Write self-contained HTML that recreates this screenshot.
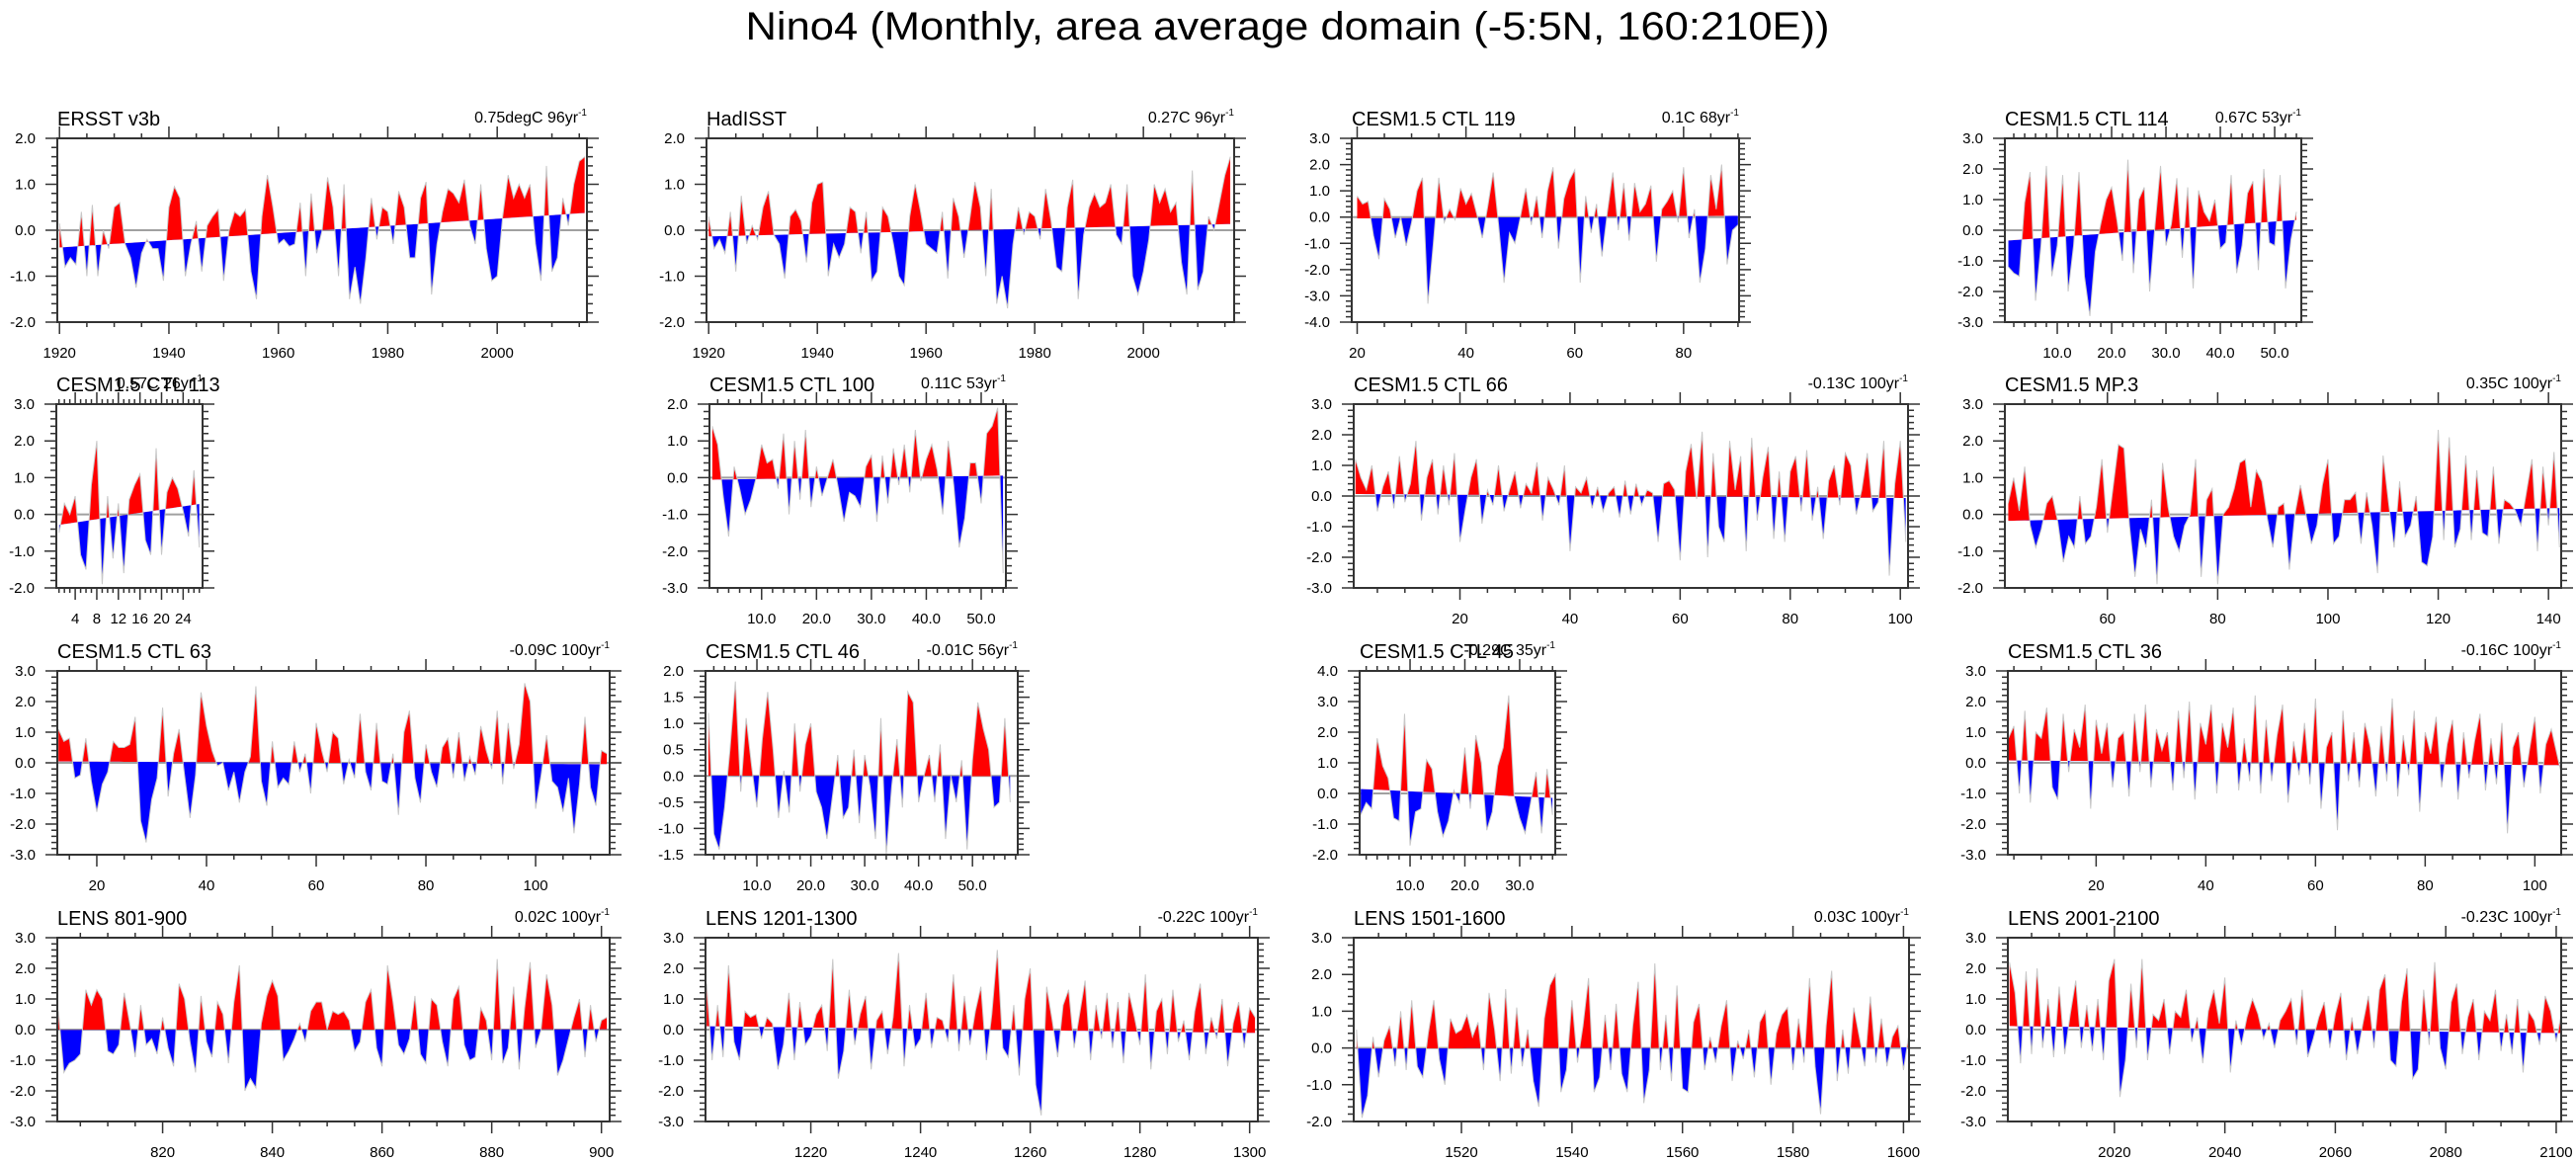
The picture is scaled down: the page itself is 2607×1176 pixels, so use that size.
<!DOCTYPE html>
<html><head><meta charset="utf-8">
<style>
html,body{margin:0;padding:0;background:#fff;}
svg{display:block;font-family:"Liberation Sans",Arial,sans-serif;}
</style></head>
<body>
<svg id="chart" width="2607" height="1176" viewBox="0 0 2607 1176" xmlns="http://www.w3.org/2000/svg">
<rect x="0" y="0" width="2607" height="1176" fill="#fff"/>
<text x="1303" y="40" text-anchor="middle" font-size="40" textLength="1097" lengthAdjust="spacingAndGlyphs" fill="#000">Nino4 (Monthly, area average domain (-5:5N, 160:210E))</text>
</svg>
<script>
// ---- data (approx. one per year) ----
const ersstValues=[0.15,-0.8,-0.6,-0.75,0.4,-1.0,0.55,-1.0,0.0,-0.4,0.5,0.6,-0.3,-0.6,-1.25,-0.5,-0.2,-0.4,-0.4,-1.1,0.5,0.95,0.7,-1.0,-0.3,0.2,-0.9,0.1,0.3,0.45,-1.1,0.0,0.4,0.3,0.45,-0.9,-1.5,0.3,1.2,0.5,-0.3,-0.2,-0.35,-0.3,0.6,-1.0,0.8,-0.5,0.0,1.15,0.5,-1.0,1.0,-1.5,-0.8,-1.6,-0.6,0.7,-0.2,0.5,0.4,-0.3,0.85,0.5,-0.6,-0.6,0.7,1.05,-1.4,-0.3,0.4,0.9,0.8,0.6,1.1,0.1,-0.3,1.0,-0.4,-1.1,-1.0,0.3,1.2,0.7,1.0,0.7,1.0,-0.3,-1.1,1.4,-0.9,-0.6,0.7,0.1,1.0,1.5,1.6];
const hadisstValues=[0.3,-0.4,-0.2,-0.5,0.4,-0.9,0.75,-0.3,0.1,-0.2,0.5,0.85,-0.1,-0.3,-1.05,0.3,0.45,0.2,-0.7,0.6,1.0,1.05,-1.0,-0.3,-0.6,-0.3,0.5,0.4,-0.5,0.4,-1.1,-0.9,0.5,0.3,-0.3,-1.0,-1.2,0.3,1.0,0.4,-0.3,-0.4,-0.5,0.4,-1.05,0.7,0.3,-0.6,0.2,1.05,0.5,-1.0,0.9,-1.6,-1.0,-1.7,-0.3,0.5,-0.1,0.4,0.3,-0.2,0.9,0.2,-0.8,-0.9,0.5,1.1,-1.5,-0.1,0.5,0.8,0.5,0.6,1.0,-0.1,-0.3,1.0,-1.0,-1.4,-0.9,-0.2,1.0,0.6,0.9,0.4,0.6,-0.7,-1.4,1.3,-1.3,-0.9,0.3,0.0,0.6,1.2,1.6];
const ctl119Values=[0.8,0.5,0.6,-0.7,-1.6,0.7,0.3,-0.8,0.0,-1.1,-0.2,1.0,1.5,-3.3,-1.0,1.5,-0.2,0.3,-0.1,1.1,0.5,0.9,0.1,-0.8,0.4,1.7,-0.3,-2.5,-0.6,-1.0,0.0,1.1,-0.3,0.8,-0.8,1.0,1.9,-1.2,0.7,1.4,1.8,-2.5,0.8,-0.6,0.5,-1.5,0.2,1.7,-0.5,1.3,-0.9,1.3,0.2,0.5,1.2,-1.7,0.3,0.6,1.0,-0.2,1.9,-0.8,0.3,-2.5,-1.2,1.6,0.3,2.0,-1.8,-0.5,-0.3];
const ctl114Values=[-1.2,-1.4,-1.5,0.9,1.9,-2.3,-0.5,2.1,-1.5,-0.5,1.8,-2.0,-0.5,1.9,-1.5,-2.8,-0.7,0.2,1.0,1.4,0.3,-1.0,2.3,-1.4,1.0,1.4,-2.0,0.2,2.1,-0.5,0.2,1.7,-0.9,1.4,-1.9,1.3,0.6,0.3,1.0,-0.6,-0.4,1.8,-1.4,-0.5,1.2,1.6,-1.3,2.0,-0.4,-0.5,1.8,-1.9,-0.3,0.6];
const ctl113Values=[-0.5,0.3,0.0,0.5,-1.1,-1.5,0.8,2.0,-1.9,0.5,-1.2,0.3,-1.6,0.4,0.8,1.1,-0.7,-1.1,1.8,-1.1,0.6,1.0,0.7,0.1,-0.6,1.2,-0.9];
const ctl100Values=[1.4,0.9,-0.5,-1.6,0.3,-0.3,-1.0,-0.6,0.0,0.9,0.4,0.5,-0.3,1.2,-1.0,1.0,-0.6,1.3,-0.8,0.3,-0.5,0.0,0.5,-0.3,-1.2,-0.4,-0.5,-0.8,0.3,0.6,-1.2,0.6,-0.7,0.8,-0.2,0.9,-0.4,1.3,-0.1,0.5,0.9,0.2,-1.0,1.0,-0.2,-1.9,-1.1,0.4,0.4,-0.7,1.2,1.4,1.9,-2.6];
const ctl66Values=[1.2,0.6,0.2,1.0,-0.5,0.3,0.8,-0.4,1.3,-0.2,0.4,1.8,-0.8,0.6,1.2,-0.6,1.0,-0.3,1.4,-1.5,-0.4,0.6,1.2,-0.9,0.2,-0.3,1.0,-0.5,0.2,0.8,-0.4,0.4,0.1,1.1,-0.8,0.6,0.2,-0.3,1.0,-1.8,0.3,0.1,0.6,-0.4,0.3,-0.5,0.1,0.3,-0.7,0.5,-0.6,0.4,-0.3,0.2,0.1,-1.5,0.4,0.5,0.2,-2.1,0.8,1.7,-0.1,2.1,-2.0,1.4,-1.0,-1.5,1.8,0.2,1.3,-1.8,1.9,-0.8,0.6,1.6,-1.4,0.8,-1.5,0.8,1.3,-0.5,1.5,-0.8,0.3,-1.4,0.5,1.0,-0.3,1.4,1.0,-0.6,0.2,1.4,-0.5,-0.2,1.8,-2.6,0.4,1.8,-1.5];
const mp3Values=[0.3,1.0,0.1,1.3,-0.3,-0.9,-0.4,0.3,0.5,-0.2,-1.3,-0.6,-0.9,0.5,-0.8,-0.6,0.2,1.5,-0.5,0.7,1.9,1.8,-0.3,-1.7,-0.4,-0.9,0.4,-1.9,1.4,0.2,-0.6,-1.0,-0.3,0.0,1.5,-1.7,0.4,0.7,-1.9,0.0,0.2,0.7,1.4,1.5,0.2,1.2,0.9,-0.1,-0.9,0.2,0.3,-1.5,0.0,0.8,0.0,-0.8,-0.3,0.8,1.5,-0.8,-0.6,0.4,0.4,0.6,-0.8,0.6,-0.3,-1.6,1.6,0.3,-0.9,0.9,-0.6,-0.3,0.5,-1.3,-1.4,-0.6,2.3,-0.7,2.1,-0.9,-0.4,1.6,-0.7,1.2,-0.5,-0.6,1.3,-0.8,0.4,0.3,0.1,-0.3,0.6,1.5,-1.0,1.3,-0.3,1.7,-0.9];
const ctl63Values=[1.1,0.7,0.8,-0.5,-0.4,0.8,-0.6,-1.6,-0.7,-0.3,0.7,0.5,0.5,0.6,1.5,-1.9,-2.6,-1.2,-0.5,1.8,-1.1,0.3,1.1,-0.4,-1.8,-0.4,2.3,1.2,0.4,-0.1,0.0,-0.9,-0.3,-1.3,-0.3,0.2,2.5,-0.6,-1.4,0.7,-0.8,-0.5,-0.7,0.7,-0.3,0.3,-1.0,1.3,0.4,-0.3,1.0,0.8,-0.7,0.1,-0.5,1.6,-0.3,-0.9,1.3,-0.6,-0.7,0.3,-1.7,1.0,1.7,-0.5,-1.3,0.6,-0.3,-0.8,0.5,0.8,-0.5,1.0,-0.6,0.2,-0.4,1.2,0.4,-0.2,1.7,-0.7,1.3,-0.2,0.6,2.6,2.0,-1.5,-0.4,0.9,-0.6,-0.8,-1.6,-0.5,-2.3,-0.7,1.5,-0.8,-1.4,0.4,0.3];
const ctl46Values=[1.2,-1.1,-1.4,-0.6,0.5,1.8,-0.3,1.1,0.2,-0.6,0.7,1.6,0.5,-0.8,0.1,-0.7,1.0,-0.3,0.6,1.0,-0.3,-0.6,-1.2,-0.4,0.4,-0.8,-0.6,0.5,-0.9,0.4,-0.2,-1.2,1.1,-1.5,-0.2,0.7,-0.6,1.6,1.4,-0.5,0.0,0.4,-0.5,0.6,-1.2,0.0,-0.5,0.3,-1.4,0.3,1.4,0.9,0.5,-0.6,-0.5,1.1,-0.5];
const ctl45Values=[-0.7,-0.3,-0.5,1.8,0.9,0.5,-0.8,-0.9,2.6,-1.7,-0.6,-0.5,1.1,0.8,-0.6,-1.4,-0.9,0.1,-0.3,1.5,-0.5,1.9,1.0,-1.2,-0.6,0.9,1.5,3.2,-0.1,-0.8,-1.3,-0.3,0.7,-1.3,0.8,-0.7];
const ctl36Values=[0.8,1.2,-1.0,1.7,-1.3,1.0,0.8,1.8,-0.8,-1.2,1.6,-0.3,1.1,0.5,1.9,-1.5,1.4,0.3,1.3,-0.8,0.8,1.0,-1.1,1.6,-0.3,1.9,-0.8,1.1,0.4,1.0,-0.9,1.7,-0.5,2.0,-1.2,1.3,0.6,1.9,-1.0,1.3,0.5,1.8,-0.9,0.8,-0.6,2.2,-1.0,1.4,-0.6,0.9,1.9,-1.3,0.7,-0.4,1.3,-0.7,2.1,-1.5,0.5,1.0,-2.2,1.7,-0.6,1.0,-0.8,1.3,0.5,-1.1,1.2,-0.6,2.1,-1.1,0.9,-0.4,1.7,-1.6,1.0,0.3,1.5,-0.8,0.6,1.4,-1.2,1.0,-0.5,0.7,1.6,-0.9,0.8,-0.7,1.3,-2.3,0.5,1.0,-0.8,0.4,1.5,-1.0,0.6,1.1,0.3,-0.5];
const lens801Values=[0.6,-1.4,-1.1,-1.0,-0.8,1.3,0.8,1.3,1.0,-0.7,-0.8,-0.5,1.2,0.2,-0.9,0.8,-0.5,-0.3,-0.8,0.4,-0.6,-1.2,1.5,1.0,-0.4,-1.4,1.1,-0.4,-0.9,0.9,0.5,-1.1,0.9,2.1,-2.0,-1.6,-1.9,0.2,1.1,1.6,1.1,-1.0,-0.7,-0.3,0.2,-0.4,0.6,0.9,0.9,0.0,0.6,0.5,0.6,0.3,-0.7,-0.4,0.9,1.3,-0.6,-1.2,2.1,0.9,-0.5,-0.8,-0.3,1.1,-0.8,-1.1,1.0,0.8,-0.4,-1.2,1.0,1.4,-0.5,-1.0,-0.9,0.7,0.3,-1.0,2.3,-1.1,-0.6,1.4,-1.3,0.7,2.2,-0.6,0.0,1.8,0.8,-1.5,-1.0,-0.3,0.4,1.0,-0.9,0.8,-0.4,0.3,0.4];
const lens1201Values=[1.5,-1.0,0.8,-0.9,2.1,-0.4,-1.0,0.6,0.4,0.5,-0.3,0.4,0.2,-1.3,-0.5,1.2,-1.0,0.9,-0.5,-0.2,0.5,0.8,-0.7,2.3,-1.6,-0.7,1.3,-0.5,0.5,1.1,-1.3,0.3,0.6,-0.8,0.4,2.5,-1.2,0.8,-0.6,-0.3,1.2,-0.6,0.4,0.3,-0.4,1.8,-0.7,1.1,-0.5,0.6,1.4,-1.0,0.5,2.6,-0.6,-0.9,0.8,-1.5,1.0,2.0,-1.8,-2.8,1.4,0.3,-0.9,0.8,1.3,-0.6,0.5,1.6,-1.0,0.8,-0.3,1.2,-0.6,0.9,-1.1,1.2,0.4,-0.5,1.8,-1.3,0.6,1.0,-0.8,1.3,-0.4,0.3,-1.0,0.6,1.5,-0.8,0.4,-0.3,1.0,-1.2,0.2,0.9,-0.6,0.7,0.4];
const lens1501Values=[0.5,-1.9,-1.3,0.3,-0.8,0.2,0.6,-0.5,1.0,-0.6,1.3,-0.5,-0.8,0.4,1.3,-0.3,-1.0,0.8,0.4,0.5,0.9,0.3,0.7,-0.6,1.5,0.5,-0.9,1.6,-0.7,1.1,-0.5,0.5,-0.9,-1.6,0.8,1.7,2.0,-1.2,-0.6,1.3,-0.4,0.6,1.9,-1.2,-0.8,0.9,-0.6,1.2,-0.7,-1.2,0.6,1.8,-1.5,-0.6,2.3,-0.6,0.9,-0.9,1.7,-1.1,-1.2,0.7,1.2,-0.6,0.3,-0.4,0.6,1.3,-0.9,0.2,-0.3,0.5,-0.8,0.7,1.0,-1.0,0.4,0.9,1.1,-0.6,0.8,-0.4,1.9,-0.5,-1.8,0.6,2.1,-0.9,0.5,-0.7,1.1,0.3,-0.5,1.4,-0.4,0.8,-0.5,0.3,0.6,-0.6,0.4];
const lens2001Values=[2.2,1.2,-1.1,1.9,-0.8,2.0,-0.6,1.0,-0.9,1.4,-0.8,0.5,1.6,-0.6,0.8,-0.7,1.0,-1.0,1.6,2.3,-2.2,-1.0,1.5,-0.6,2.3,-1.0,0.5,0.3,1.0,-0.8,0.6,0.4,1.3,-0.4,0.4,-1.1,0.6,1.3,0.2,1.7,-1.4,0.3,-0.5,0.4,1.0,0.5,-0.3,0.2,-0.6,0.3,0.6,1.0,-0.5,1.3,-0.9,-0.3,0.4,0.9,-0.6,0.5,1.2,-1.0,0.4,-0.8,0.2,1.1,-0.6,1.3,1.8,-1.0,-1.2,0.9,2.0,-1.6,-1.3,1.3,-0.5,2.2,-0.6,-1.3,0.9,1.5,-0.8,0.4,1.0,-1.0,0.6,0.3,1.3,-0.7,0.5,-0.8,1.0,-1.4,0.6,0.3,-0.5,1.1,0.6,-0.4,0.6];
const panelTitles=["ERSST v3b","HadISST","CESM1.5 CTL 119","CESM1.5 CTL 114","CESM1.5 CTL 113","CESM1.5 CTL 100","CESM1.5 CTL 66","CESM1.5 MP.3","CESM1.5 CTL 63","CESM1.5 CTL 46","CESM1.5 CTL 45","CESM1.5 CTL 36","LENS 801-900","LENS 1201-1300","LENS 1501-1600","LENS 2001-2100"];
const trendLabels=["0.75degC 96yr","0.27C 96yr","0.1C 68yr","0.67C 53yr","0.57C 26yr","0.11C 53yr","-0.13C 100yr","0.35C 100yr","-0.09C 100yr","-0.01C 56yr","-0.29C 35yr","-0.16C 100yr","0.02C 100yr","-0.22C 100yr","0.03C 100yr","-0.23C 100yr"];
const trendTotals=[0.75,0.27,0.1,0.67,0.57,0.11,-0.13,0.35,-0.09,-0.01,-0.29,-0.16,0.02,-0.22,0.03,-0.23];
const seriesStarts=[1920,1920,20,1,1,1,1,42,13,1,1,4,801,1201,1501,2001];
const seriesList=[ersstValues,hadisstValues,ctl119Values,ctl114Values,ctl113Values,ctl100Values,ctl66Values,mp3Values,ctl63Values,ctl46Values,ctl45Values,ctl36Values,lens801Values,lens1201Values,lens1501Values,lens2001Values];
const xDomains=[[1919.6,2016.4],[1919.6,2016.7],[19,90.2],[0.36,54.9],[0.5,27.6],[0.5,54.5],[0.7,101.4],[41.4,142.3],[12.8,113.5],[0.46,58.4],[0.8,36.5],[3.9,104.8],[800.8,901.5],[1200.8,1301.5],[1500.5,1601],[2000.7,2100.9]];
const yDomains=[[-2,2],[-2,2],[-4,3],[-3,3],[-2,3],[-3,2],[-3,3],[-2,3],[-3,3],[-1.5,2],[-2,4],[-3,3],[-3,3],[-3,3],[-2,3],[-3,3]];
const xTickSpecs=[[1920,2000,20,5,0],[1920,2000,20,5,0],[20,80,20,5,0],[10,50,10,2,1],[4,24,4,1,0],[10,50,10,2,1],[20,100,20,5,0],[60,140,20,5,0],[20,100,20,5,0],[10,50,10,2,1],[10,30,10,2,1],[20,100,20,5,0],[820,900,20,5,0],[1220,1300,20,5,0],[1520,1600,20,5,0],[2020,2100,20,5,0]];
const yTickSpecs=[[1,0.2],[1,0.2],[1,0.2],[1,0.2],[1,0.2],[1,0.2],[1,0.2],[1,0.2],[1,0.2],[0.5,0.1],[1,0.2],[1,0.2],[1,0.2],[1,0.2],[1,0.2],[1,0.2]];

// ---- layout (pixel frames) ----
const rowTops=[140,409,679,949];
const PH=186;
const frameX=[[58,594],[715,1249],[1368,1760],[2029,2329],[57,205],[718,1018],[1370,1931],[2029,2592],[58,617],[714,1030],[1376,1574],[2032,2592],[58,617],[714,1273],[1370,1932],[2032,2592]];

const NS="http://www.w3.org/2000/svg";
const svg=document.getElementById('chart');
function mk(tag,attrs,parent){const e=document.createElementNS(NS,tag);for(const k in attrs)e.setAttribute(k,attrs[k]);parent.appendChild(e);return e;}
function slug(s){return s.toLowerCase().replace(/[^a-z0-9]+/g,'-').replace(/^-|-$/g,'');}

for(let p=0;p<16;p++){
  const L=frameX[p][0],R=frameX[p][1],T=rowTops[Math.floor(p/4)],B=T+PH;
  const [x0,x1]=xDomains[p],[y0,y1]=yDomains[p];
  const xs=v=>L+(v-x0)/(x1-x0)*(R-L);
  const ys=v=>B-(v-y0)/(y1-y0)*(B-T);
  const g=mk('g',{},svg);
  
  
  const cid='clip'+p;
  const defs=mk('defs',{},g);
  const cp=mk('clipPath',{id:cid},defs);
  mk('rect',{x:L,y:T,width:R-L,height:B-T},cp);
  // zero line
  const zl=mk('line',{x1:L,x2:R,y1:ys(0),y2:ys(0),stroke:'#a0a0a0','stroke-width':2},g);
  
  
  // series
  const vals=seriesList[p],st=seriesStarts[p],n=vals.length;
  const tA=st,tB=st+n-1,tm=(tA+tB)/2,slope=trendTotals[p]/Math.max(1,(tB-tA));
  const base=t=>slope*(t-tm);
  let pts=[],bpts=[];
  for(let i=0;i<n;i++){const t=st+i;pts.push([xs(t),ys(vals[i])]);bpts.push([xs(t),ys(base(t))]);}
  let area='M'+bpts[0][0]+','+bpts[0][1];
  pts.forEach(q=>area+=' L'+q[0]+','+q[1]);
  for(let i=n-1;i>=0;i--)area+=' L'+bpts[i][0]+','+bpts[i][1];
  area+=' Z';
  let bl='';bpts.forEach((q,i)=>bl+=(i?' L':'M')+q[0]+','+q[1]);
  const cu=mk('clipPath',{id:cid+'u'},defs);
  mk('path',{d:bl+' L'+bpts[n-1][0]+','+(T-50)+' L'+bpts[0][0]+','+(T-50)+' Z'},cu);
  const cd=mk('clipPath',{id:cid+'d'},defs);
  mk('path',{d:bl+' L'+bpts[n-1][0]+','+(B+50)+' L'+bpts[0][0]+','+(B+50)+' Z'},cd);
  const gc=mk('g',{'clip-path':'url(#'+cid+')'},g);
  const gu=mk('g',{'clip-path':'url(#'+cid+'u)'},gc);
  const red=mk('path',{d:area,fill:'#ff0000'},gu);
  
  
  const gd=mk('g',{'clip-path':'url(#'+cid+'d)'},gc);
  const blue=mk('path',{d:area,fill:'#0000ff'},gd);
  
  
  let ln='';pts.forEach((q,i)=>ln+=(i?' L':'M')+q[0]+','+q[1]);
  const sl=mk('path',{d:ln,fill:'none',stroke:'#c8c8c8','stroke-width':1},gc);
  
  
  // frame
  const fr=mk('rect',{x:L,y:T,width:R-L,height:B-T,fill:'none',stroke:'#333','stroke-width':2},g);
  
  
  // x ticks
  const [xf,xl,xmaj,xmin,xdec]=xTickSpecs[p];
  let tk='';
  for(let v=Math.ceil(x0/xmin)*xmin;v<=x1+1e-9;v+=xmin){
    const x=xs(v);const major=Math.abs((v-xf)/xmaj-Math.round((v-xf)/xmaj))<1e-6;
    const len=major?12:5;
    tk+=`M${x},${B} L${x},${B+len} M${x},${T} L${x},${T-len} `;
  }
  const [ymaj,ymin]=yTickSpecs[p];
  for(let v=y0;v<=y1+1e-9;v+=ymin){
    const y=ys(v);const r=v/ymaj;const major=Math.abs(r-Math.round(r))<1e-6;
    const len=major?12:6;
    tk+=`M${L},${y} L${L-len},${y} M${R},${y} L${R+len},${y} `;
  }
  const tp=mk('path',{d:tk,stroke:'#333','stroke-width':1.5,fill:'none'},g);
  
  
  for(let v=xf;v<=xl+1e-9;v+=xmaj){
    const t=mk('text',{x:xs(v),y:B+36,'text-anchor':'middle','font-size':15,fill:'#000'},g);
    t.textContent=v.toFixed(xdec);
    
    
  }
  for(let k=0;y0+k*ymaj<=y1+1e-9;k++){
    const v=y0+k*ymaj;
    const t=mk('text',{x:L-22,y:ys(v)+5,'text-anchor':'end','font-size':15,fill:'#000'},g);
    t.textContent=(Math.abs(v)<1e-9?0:v).toFixed(1);
    
    
  }
  const ti=mk('text',{x:L,y:T-13,'font-size':20,fill:'#000'},g);
  ti.textContent=panelTitles[p];
  
  
  const tr=mk('text',{x:R,y:T-16,'text-anchor':'end','font-size':16,fill:'#000'},g);
  
  
  const s1=mk('tspan',{},tr);s1.textContent=trendLabels[p];
  const s2=mk('tspan',{dy:-7,'font-size':10},tr);s2.textContent='-1';
}
</script>
</body></html>
